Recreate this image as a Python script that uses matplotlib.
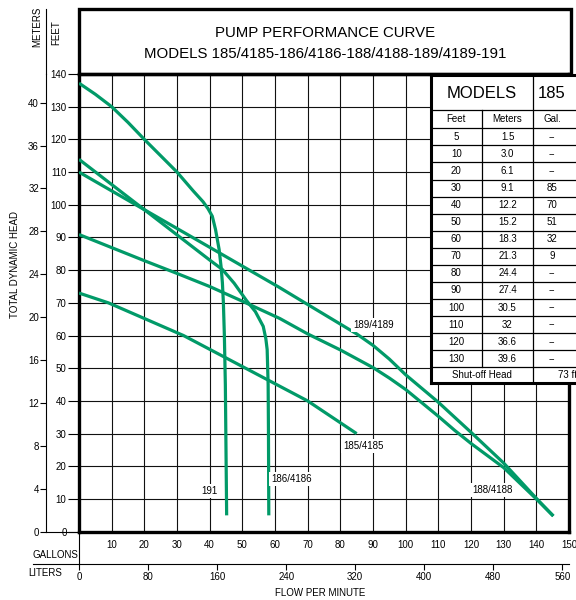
import matplotlib
matplotlib.use("Agg")
import matplotlib.pyplot as plt
from matplotlib.lines import Line2D
from matplotlib.patches import Rectangle

plt.rcParams['font.family'] = ['Liberation Sans Narrow', 'Liberation Sans', 'DejaVu Sans']

# flow (gal/min) and head (ft)
q_191 = [0, 5, 10, 15, 20, 25, 30, 35, 38, 39.5, 40.8, 41.8, 42.9, 43.5, 43.9, 44.2, 44.5, 44.8, 45.0, 45.2]
h_191 = [137.2, 133.8, 130, 125.2, 120, 115, 110, 104.2, 100.9, 98.8, 96.5, 92.4, 86.3, 81, 76.1, 70, 60, 45, 25, 5]

q_186 = [0, 10, 20, 30, 40, 43.9, 47.5, 51.2, 54, 56.4, 57.2, 57.6, 57.9, 58.0, 58.1]
h_186 = [113.9, 106.2, 98.5, 90.8, 83.1, 80.2, 76, 70.8, 67.3, 62.8, 59, 55.7, 45, 30, 5]

q_189 = [0, 20, 40, 61.2, 70, 80, 85, 90, 95, 100, 110, 120, 130, 140, 145.2]
h_189 = [110, 98.5, 87, 74.8, 69.5, 63.5, 60.5, 57, 52.8, 48, 39.6, 30.4, 21, 10.2, 4.8]

q_188 = [0, 10, 20, 30, 40, 50, 61.5, 70, 80, 90, 95, 100, 110, 115, 120, 130, 140, 145.2]
h_188 = [90.9, 86.9, 82.9, 79, 75, 70.5, 65.2, 60.5, 55.6, 50.2, 47, 43.5, 35.3, 31, 27, 19.6, 10, 4.8]

q_185 = [0, 9, 32, 51, 70, 85]
h_185 = [73, 70, 60, 50, 40, 30]

curve_labels = ["191", "186/4186", "189/4189", "188/4188", "185/4185"]
label_q = [40, 65, 90.1, 126.6, 87]
label_h = [12.4, 16.2, 63.2, 12.8, 26.3]

# table of model 185
tbl_feet = ["5", "10", "20", "30", "40", "50", "60", "70", "80", "90", "100", "110", "120", "130"]
tbl_meters = ["1.5", "3.0", "6.1", "9.1", "12.2", "15.2", "18.3", "21.3", "24.4", "27.4", "30.5", "32", "36.6", "39.6"]
tbl_185 = ["--", "--", "--", "85", "70", "51", "32", "9", "--", "--", "--", "--", "--", "--"]
shutoff_185 = "73 ft"

gal_ticks = list(range(0, 151, 10))
ft_ticks = list(range(0, 141, 10))
m_ticks = list(range(0, 41, 4))
l_ticks = list(range(0, 561, 80))

GREEN = "#019a68"
W, H = 576, 600


def fx(px):
    return px / W


def fy(py):
    return 1 - py / H


def fig_line(x, y, lw=0.8):
    fig.add_artist(Line2D([fx(v) for v in x], [fy(v) for v in y], color="k", lw=lw,
                          transform=fig.transFigure))


fig = plt.figure(figsize=(5.76, 6.0), dpi=100)

x0, x1, ytop, ybot = 79, 569, 74, 531.7
ax = fig.add_axes([fx(x0), fy(ybot), (x1 - x0) / W, (ybot - ytop) / H])
ax.set_xlim(0, 150)
ax.set_ylim(0, 140)
ax.set_xticks(gal_ticks)
ax.set_xticklabels([""] + [str(v) for v in gal_ticks[1:]])
ax.set_yticks(ft_ticks)
ax.grid(True, color="#111111", lw=0.8)
ax.set_axisbelow(True)
for s in ax.spines.values():
    s.set_linewidth(2.4)
ax.tick_params(axis="x", length=0, pad=6, labelsize=7)
ax.tick_params(axis="y", length=8, width=0.8, pad=1, labelsize=7)

for q, h in [(q_191, h_191), (q_186, h_186), (q_189, h_189), (q_188, h_188), (q_185, h_185)]:
    ax.plot(q, h, color=GREEN, lw=2.3, solid_capstyle="butt", zorder=3)

for s, q, h in zip(curve_labels, label_q, label_h):
    ax.text(q, h, s, fontsize=7, ha="center", va="center", zorder=4,
            bbox=dict(fc="white", ec="none", pad=1.5))

# meters axis
sec_y = ax.secondary_yaxis((46 - x0) / (x1 - x0), functions=(lambda f: f / 3.281, lambda m: m * 3.281))
sec_y.set_yticks(m_ticks)
sec_y.tick_params(length=4, width=0.8, pad=1, labelsize=7)
sec_y.spines["left"].set_linewidth(0.8)

# liters axis
sec_x = ax.secondary_xaxis((ybot - 564) / (ybot - ytop), functions=(lambda g: g * 3.785, lambda l: l / 3.785))
sec_x.set_xticks(l_ticks)
sec_x.tick_params(length=4, width=0.8, pad=2, labelsize=7)
sec_x.spines["bottom"].set_linewidth(0.8)

fig_line([46, 46], [9, 74])
fig_line([46, 79], [ybot, ybot])
fig_line([33, 79], [564, 564])
fig_line([79, 79], [ybot, 564])

# title box
fig.add_artist(Rectangle((fx(79), fy(74)), (571 - 79) / W, (74 - 9) / H, fill=False, lw=2.4,
                         ec="k", transform=fig.transFigure))
fig.text(fx(325), fy(33), "PUMP PERFORMANCE CURVE", fontsize=10.8, ha="center", va="center")
fig.text(fx(325), fy(54), "MODELS 185/4185-186/4186-188/4188-189/4189-191", fontsize=10.8,
         ha="center", va="center")

fig.text(fx(37), fy(27), "METERS", fontsize=7, rotation=90, ha="center", va="center")
fig.text(fx(56), fy(33), "FEET", fontsize=7, rotation=90, ha="center", va="center")
fig.text(fx(15), fy(265), "TOTAL DYNAMIC HEAD", fontsize=7, rotation=90, ha="center", va="center")
fig.text(fx(55), fy(555), "GALLONS", fontsize=7, ha="center", va="center")
fig.text(fx(45), fy(573), "LITERS", fontsize=7, ha="center", va="center")
fig.text(fx(320), fy(593), "FLOW PER MINUTE", fontsize=7, ha="center", va="center")

# table (drawn in pixel coordinates)
tl, tr, tt, tb = 430.7, 584.6, 75, 383.3
c1, c2 = 481.7, 533.3
tab = fig.add_axes([fx(tl), fy(tb), (tr - tl) / W, (tb - tt) / H])
tab.set_xlim(tl, tr)
tab.set_ylim(tb, tt)
tab.set_xticks([])
tab.set_yticks([])
tab.set_facecolor("white")
for s in tab.spines.values():
    s.set_linewidth(2.2)

head_b, sub_b = 110, 128.3
rh = (367.3 - sub_b) / len(tbl_feet)
tab.plot([tl, tr], [head_b, head_b], color="k", lw=0.9)
tab.plot([c2, c2], [tt, tb], color="k", lw=0.9)
tab.plot([c1, c1], [head_b, sub_b + rh * len(tbl_feet)], color="k", lw=0.9)
tab.text((tl + c2) / 2, 93, "MODELS", fontsize=12, ha="center", va="center")
tab.text(552, 93, "185", fontsize=12, ha="center", va="center")
tab.text((tl + c1) / 2, 119.5, "Feet", fontsize=7, ha="center", va="center")
tab.text((c1 + c2) / 2, 119.5, "Meters", fontsize=7, ha="center", va="center")
tab.text(552, 119.5, "Gal.", fontsize=7, ha="center", va="center")
for i, (f, m, g) in enumerate(zip(tbl_feet, tbl_meters, tbl_185)):
    top = sub_b + rh * i
    tab.plot([tl, tr], [top, top], color="k", lw=0.9)
    yc = top + rh / 2
    tab.text((tl + c1) / 2, yc, f, fontsize=7, ha="center", va="center")
    tab.text((c1 + c2) / 2, yc, m, fontsize=7, ha="center", va="center")
    tab.text(552, yc, g, fontsize=7, ha="center", va="center")
last = sub_b + rh * len(tbl_feet)
tab.plot([tl, tr], [last, last], color="k", lw=0.9)
tab.text((tl + c2) / 2, (last + tb) / 2, "Shut-off Head", fontsize=7, ha="center", va="center")
tab.text(558, (last + tb) / 2, shutoff_185, fontsize=7, ha="left", va="center")

fig.savefig("out.png", dpi=100)
